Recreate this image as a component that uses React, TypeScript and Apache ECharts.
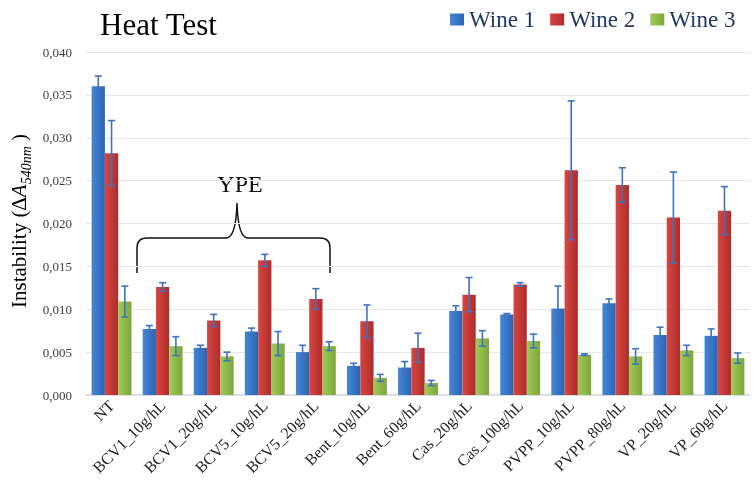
import React, { useEffect, useRef } from "react";
import * as echarts from "echarts";

const categories = ["NT", "BCV1_10g/hL", "BCV1_20g/hL", "BCV5_10g/hL", "BCV5_20g/hL", "Bent_10g/hL", "Bent_60g/hL", "Cas_20g/hL", "Cas_100g/hL", "PVPP_10g/hL", "PVPP_80g/hL", "VP_20g/hL", "VP_60g/hL"];
const seriesNames = ["Wine 1", "Wine 2", "Wine 3"];
const wine1 = [0.0360, 0.0077, 0.0055, 0.0074, 0.0050, 0.0034, 0.0032, 0.0098, 0.0094, 0.0101, 0.0107, 0.0070, 0.0069];
const wine1Err = [0.0012, 0.0004, 0.0003, 0.0004, 0.0008, 0.0003, 0.0007, 0.0006, 0.0001, 0.0026, 0.0005, 0.0009, 0.0008];
const wine2 = [0.0282, 0.0126, 0.0087, 0.0157, 0.0112, 0.0086, 0.0055, 0.0117, 0.0129, 0.0262, 0.0245, 0.0207, 0.0215];
const wine2Err = [0.0038, 0.0005, 0.0007, 0.0007, 0.0012, 0.0019, 0.0017, 0.0020, 0.0002, 0.0081, 0.0020, 0.0053, 0.0028];
const wine3 = [0.0109, 0.0057, 0.0045, 0.0060, 0.0057, 0.0020, 0.0014, 0.0066, 0.0063, 0.0047, 0.0045, 0.0052, 0.0043];
const wine3Err = [0.0018, 0.0011, 0.0005, 0.0014, 0.0005, 0.0004, 0.0003, 0.0009, 0.0008, 0.0001, 0.0009, 0.0006, 0.0006];

const SERIF = '"Liberation Serif", "Times New Roman", serif';
const CAT_FILL = 0.78;

echarts.graphic.registerShape(
  "brace",
  echarts.graphic.extendPath(
    "M137 273 L137 248 Q137 238 147 238 L226 238 Q236 238 237 203 Q238 238 248 238 L320 238 Q330 238 330 248 L330 273",
    {}
  )
);

export default function App() {
  const ref = useRef<HTMLDivElement>(null);
  useEffect(() => {
    if (!ref.current) return;
    const chart = echarts.init(ref.current, null, { renderer: "svg" });
    const grad = (a: string, b: string) =>
      new echarts.graphic.LinearGradient(0, 0, 1, 0, [
        { offset: 0, color: a },
        { offset: 1, color: b },
      ]);
    const colors = [grad("#4487d6", "#2d64b2"), grad("#d84641", "#ad2c2c"), grad("#9fcb58", "#7ea53a")];
    const values = [wine1, wine2, wine3];
    const errs = [wine1Err, wine2Err, wine3Err];
    const errData: number[][] = [];
    values.forEach((arr, si) => arr.forEach((v, ci) => errData.push([ci, v, errs[si][ci], si])));

    chart.setOption({
      animation: false,
      title: {
        text: "Heat Test",
        left: 95,
        top: 4,
        textStyle: { fontFamily: SERIF, fontSize: 31, fontWeight: "normal", color: "#000" },
      },
      legend: {
        data: seriesNames,
        left: 445,
        top: 3,
        icon: "rect",
        itemWidth: 14,
        itemHeight: 12,
        itemGap: 15,
        textStyle: { fontFamily: SERIF, fontSize: 23, color: "#1f3864" },
      },
      grid: { left: 86, right: 6, top: 52, bottom: 93 },
      xAxis: {
        type: "category",
        data: categories,
        axisTick: { show: false },
        axisLine: { lineStyle: { color: "#d3d9e2", width: 1.5 } },
        axisLabel: { rotate: 45, interval: 0, fontFamily: SERIF, fontSize: 16, color: "#222", margin: 8 },
      },
      yAxis: {
        type: "value",
        min: 0,
        max: 0.04,
        interval: 0.005,
        axisLine: { show: false },
        axisTick: { show: false },
        splitLine: { lineStyle: { color: "#e8e8e8" } },
        axisLabel: {
          fontFamily: SERIF,
          fontSize: 13,
          color: "#404040",
          margin: 14,
          formatter: (v: number) => v.toFixed(3).replace(".", ","),
        },
      },
      series: [
        ...seriesNames.map((name, i) => ({
          name,
          type: "bar",
          data: values[i],
          barGap: "0%",
          barCategoryGap: "22%",
          itemStyle: { color: colors[i] },
        })),
        {
          type: "custom",
          data: errData,
          z: 10,
          renderItem: (params: any, api: any) => {
            const ci = api.value(0);
            const v = api.value(1);
            const e = api.value(2);
            const si = api.value(3);
            const band = api.size([1, 0])[0];
            const bw = (band * CAT_FILL) / 3;
            const cx = api.coord([ci, v])[0] - (band * CAT_FILL) / 2 + bw * (si + 0.5);
            const yt = api.coord([ci, v + e])[1];
            const yb = api.coord([ci, v - e])[1];
            const cap = 3.5;
            const style = { stroke: "#3f72c0", lineWidth: 1.6 };
            return {
              type: "group",
              children: [
                { type: "line", shape: { x1: cx, y1: yt, x2: cx, y2: yb }, style },
                { type: "line", shape: { x1: cx - cap, y1: yt, x2: cx + cap, y2: yt }, style },
                { type: "line", shape: { x1: cx - cap, y1: yb, x2: cx + cap, y2: yb }, style },
              ],
            };
          },
        },
      ],
      graphic: [
        {
          type: "text",
          x: 19,
          y: 221,
          rotation: Math.PI / 2,
          style: {
            text: "{a|Instability (Δ}{i|A}{s|540nm}{a| )}",
            align: "center",
            verticalAlign: "middle",
            rich: {
              a: { fontFamily: SERIF, fontSize: 21, color: "#111", lineHeight: 28, verticalAlign: "middle" },
              i: { fontFamily: SERIF, fontSize: 21, fontStyle: "italic", color: "#111", lineHeight: 28, verticalAlign: "middle" },
              s: { fontFamily: SERIF, fontSize: 14, fontStyle: "italic", color: "#111", lineHeight: 28, verticalAlign: "bottom", padding: [7, 0, 0, 0] },
            },
          },
        },
        {
          type: "text",
          x: 240,
          y: 184,
          style: { text: "YPE", fontFamily: SERIF, fontSize: 24, fill: "#111", align: "center", verticalAlign: "middle" },
        },
        {
          type: "brace",
          x: 0,
          y: 0,
          style: { stroke: "#111", lineWidth: 1.5, fill: null },
        },
      ],
    });
    return () => chart.dispose();
  }, []);
  return <div ref={ref} style={{ position: "fixed", left: 0, top: 0, width: 756, height: 488 }} />;
}
